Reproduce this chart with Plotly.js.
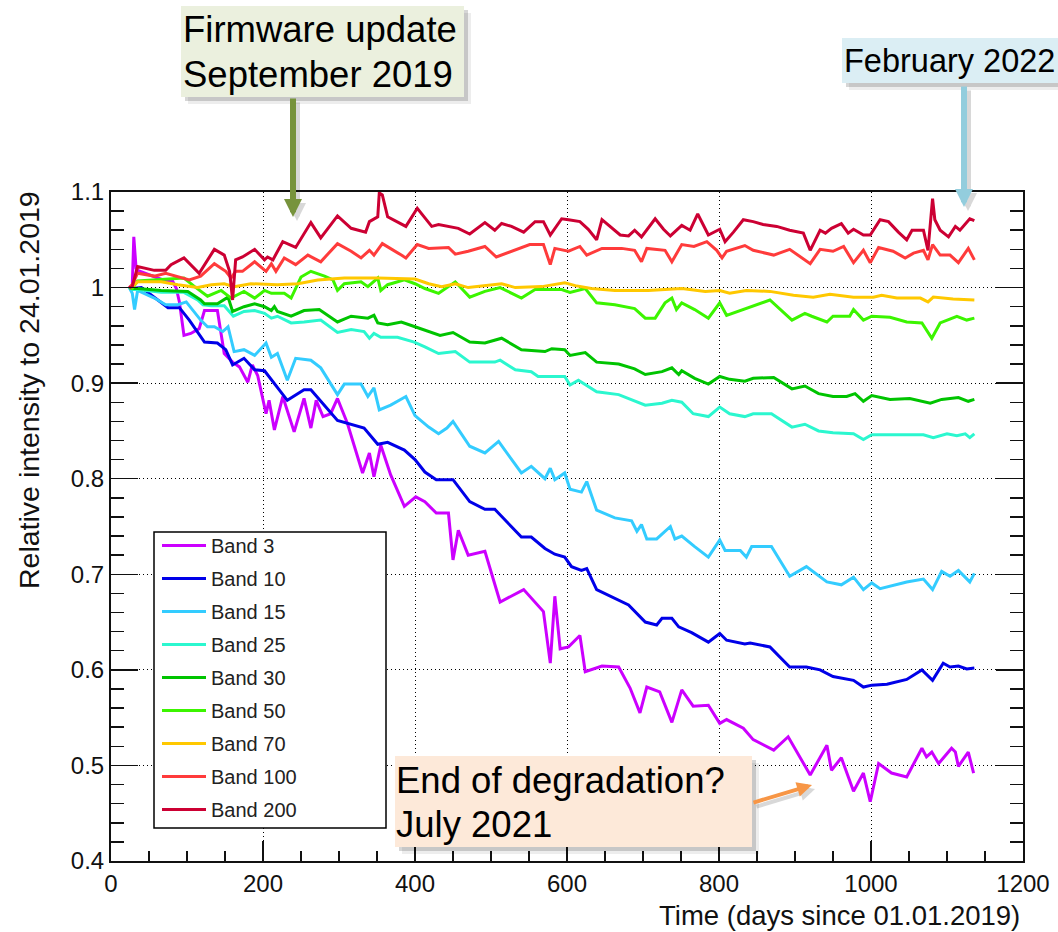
<!DOCTYPE html>
<html>
<head>
<meta charset="utf-8">
<script src="https://cdn.plot.ly/plotly-3.0.1.min.js"></script>
<style>
  html, body { margin: 0; padding: 0; background: #ffffff; }
  #chart { width: 1058px; height: 932px; }
</style>
</head>
<body>
<div id="chart"></div>
<script>
// ---------------- DATA ----------------
const bandNames = ['Band 3', 'Band 10', 'Band 15', 'Band 25', 'Band 30', 'Band 50', 'Band 70', 'Band 100', 'Band 200'];

const band3Days = [24,28,30,33,35,57,72,81,86,90,96,105,116,123,140,149,160,169,180,186,193,204,208,215,226,241,254,263,270,279,289,298,311,331,340,346,355,368,386,401,413,428,444,450,457,470,492,512,543,569,578,584,591,602,617,624,646,668,683,696,705,722,738,751,766,786,801,810,832,845,872,891,920,942,948,961,977,990,999,1010,1027,1047,1067,1073,1080,1089,1106,1111,1115,1128,1135];
const band3Vals = [1.000,1.002,1.053,1.020,1.018,1.011,1.007,1.007,0.999,0.985,0.950,0.952,0.957,0.976,0.976,0.931,0.922,0.917,0.901,0.919,0.908,0.868,0.882,0.851,0.886,0.849,0.884,0.853,0.882,0.865,0.868,0.884,0.858,0.806,0.827,0.802,0.835,0.804,0.771,0.781,0.776,0.764,0.764,0.715,0.746,0.720,0.724,0.671,0.684,0.661,0.607,0.677,0.622,0.624,0.636,0.598,0.604,0.603,0.581,0.555,0.582,0.577,0.545,0.579,0.562,0.563,0.544,0.548,0.539,0.527,0.516,0.530,0.490,0.521,0.495,0.508,0.473,0.492,0.462,0.502,0.492,0.488,0.518,0.509,0.514,0.502,0.518,0.514,0.499,0.514,0.492];

const band10Days = [24,28,40,57,75,90,103,123,140,151,160,175,189,202,232,254,263,298,333,351,364,386,400,413,428,450,472,492,505,540,553,571,584,597,606,619,626,639,663,681,703,718,725,738,747,764,786,801,810,834,841,867,893,915,933,950,977,990,1001,1021,1047,1067,1081,1095,1104,1115,1126,1136];
const band10Vals = [1.000,0.999,1.000,0.990,0.979,0.979,0.966,0.943,0.942,0.935,0.919,0.926,0.914,0.913,0.882,0.893,0.893,0.861,0.853,0.836,0.838,0.830,0.820,0.807,0.799,0.799,0.776,0.768,0.768,0.739,0.739,0.727,0.721,0.718,0.708,0.704,0.706,0.684,0.675,0.668,0.650,0.647,0.654,0.654,0.645,0.639,0.629,0.638,0.631,0.627,0.628,0.624,0.603,0.603,0.600,0.593,0.589,0.582,0.584,0.585,0.590,0.600,0.589,0.607,0.603,0.604,0.601,0.602];

const band15Days = [24,28,31,35,57,72,88,99,118,127,136,147,154,162,175,189,204,211,219,232,243,263,276,298,307,329,338,346,353,368,388,400,418,431,442,450,472,492,510,540,553,571,578,584,597,604,619,626,639,663,685,692,698,705,718,736,742,751,768,786,801,808,828,836,843,869,893,915,942,961,977,990,1001,1012,1047,1069,1081,1093,1104,1115,1130,1136];
const band15Vals = [1.000,0.994,0.977,0.997,0.989,0.982,0.982,0.985,0.966,0.959,0.959,0.954,0.959,0.933,0.935,0.929,0.942,0.927,0.931,0.903,0.926,0.924,0.916,0.888,0.899,0.899,0.886,0.895,0.872,0.877,0.886,0.866,0.854,0.847,0.853,0.860,0.834,0.827,0.839,0.806,0.813,0.800,0.811,0.799,0.806,0.789,0.786,0.797,0.767,0.759,0.756,0.745,0.752,0.737,0.737,0.750,0.737,0.740,0.729,0.718,0.736,0.725,0.725,0.718,0.729,0.729,0.698,0.708,0.692,0.689,0.697,0.684,0.691,0.685,0.692,0.695,0.684,0.703,0.698,0.704,0.692,0.701];

const band25Days = [24,28,35,66,96,114,121,132,149,161,175,189,202,211,219,237,254,276,298,316,333,340,346,355,377,399,413,431,453,472,505,512,532,553,562,597,604,615,639,668,703,725,738,751,766,786,801,814,834,845,869,896,913,931,950,977,990,1001,1069,1082,1100,1113,1124,1130,1136];
const band25Vals = [1.000,0.998,0.998,0.995,0.995,0.987,0.982,0.981,0.981,0.970,0.975,0.976,0.973,0.968,0.970,0.963,0.964,0.966,0.953,0.956,0.954,0.947,0.952,0.948,0.948,0.943,0.938,0.931,0.933,0.922,0.922,0.924,0.914,0.912,0.907,0.907,0.898,0.903,0.891,0.888,0.877,0.879,0.882,0.880,0.868,0.865,0.875,0.868,0.865,0.868,0.868,0.854,0.857,0.850,0.848,0.847,0.841,0.846,0.846,0.843,0.847,0.845,0.847,0.843,0.847];

const band30Days = [24,28,35,66,101,118,123,140,154,160,175,189,202,211,215,219,237,254,274,298,316,338,346,351,364,382,400,418,433,450,472,492,514,540,571,580,597,604,624,639,668,689,703,725,738,747,751,768,786,801,814,834,845,872,896,913,931,950,968,979,990,1001,1025,1051,1078,1093,1115,1128,1136];
const band30Vals = [1.000,0.999,0.999,0.997,0.996,0.987,0.983,0.983,0.990,0.975,0.980,0.983,0.980,0.976,0.980,0.975,0.970,0.976,0.977,0.964,0.970,0.968,0.971,0.963,0.961,0.964,0.959,0.954,0.950,0.953,0.943,0.942,0.947,0.935,0.933,0.936,0.935,0.929,0.932,0.922,0.920,0.915,0.909,0.912,0.916,0.909,0.913,0.905,0.899,0.907,0.904,0.902,0.905,0.906,0.894,0.897,0.889,0.886,0.886,0.889,0.881,0.887,0.883,0.884,0.879,0.883,0.885,0.881,0.883];

const band50Days = [24,28,35,57,96,110,127,145,158,175,189,202,211,228,237,250,263,281,292,298,307,329,338,351,355,364,386,400,413,431,453,472,492,512,540,558,593,604,624,639,663,689,703,716,729,738,744,751,768,786,801,810,834,867,896,913,922,942,950,972,977,990,1001,1025,1047,1067,1080,1091,1113,1126,1136];
const band50Vals = [1.000,0.999,1.007,1.008,1.010,1.001,0.991,0.997,0.989,0.996,0.989,0.997,0.994,0.994,0.989,1.011,1.017,1.012,1.008,0.997,1.004,1.006,1.001,1.010,0.997,1.003,1.008,1.004,0.999,0.994,1.006,0.990,0.996,1.000,0.989,0.998,0.998,0.995,0.999,0.984,0.982,0.978,0.968,0.968,0.984,0.989,0.977,0.984,0.977,0.968,0.984,0.971,0.978,0.987,0.966,0.973,0.970,0.964,0.970,0.970,0.977,0.966,0.970,0.969,0.964,0.963,0.947,0.963,0.970,0.966,0.968];

const band70Days = [24,28,35,66,88,114,132,149,162,184,219,246,272,307,351,386,400,418,435,453,470,514,532,567,597,611,632,663,707,751,782,801,814,836,867,898,924,946,977,1003,1014,1034,1065,1075,1082,1108,1136];
const band70Vals = [1.000,1.001,1.006,1.006,1.003,1.000,1.003,1.004,1.001,1.004,1.003,1.004,1.008,1.010,1.010,1.009,1.009,1.004,1.001,1.004,1.000,1.004,1.000,1.001,1.005,1.002,0.999,0.997,0.997,0.999,0.996,0.997,0.994,0.997,0.996,0.992,0.990,0.993,0.990,0.990,0.992,0.989,0.989,0.985,0.990,0.988,0.987];

const band100Days = [24,28,35,57,72,88,103,118,136,151,158,164,173,189,204,211,217,228,243,259,276,298,316,329,340,346,357,382,388,403,418,444,453,470,492,507,532,551,569,578,584,602,617,626,646,672,689,698,705,729,738,751,767,784,797,804,810,834,845,872,893,907,920,933,950,964,977,990,999,1010,1029,1045,1056,1069,1075,1081,1091,1104,1115,1128,1136];
const band100Vals = [1.000,1.003,1.015,1.012,1.015,1.011,1.008,1.012,1.025,1.017,1.010,1.017,1.017,1.027,1.017,1.025,1.017,1.031,1.024,1.034,1.027,1.046,1.038,1.031,1.039,1.034,1.046,1.034,1.031,1.045,1.041,1.042,1.035,1.038,1.043,1.032,1.039,1.045,1.045,1.024,1.041,1.038,1.043,1.034,1.041,1.041,1.039,1.027,1.041,1.039,1.027,1.045,1.043,1.048,1.039,1.031,1.038,1.044,1.039,1.034,1.040,1.032,1.025,1.040,1.038,1.043,1.026,1.039,1.026,1.042,1.038,1.031,1.036,1.039,1.029,1.045,1.034,1.034,1.026,1.041,1.029];

const band200Days = [24,28,35,57,72,79,96,116,136,149,156,160,164,173,189,202,206,213,226,243,263,276,298,316,335,340,351,353,357,364,388,403,407,422,431,444,457,472,492,505,514,527,543,558,569,578,593,602,617,628,639,646,659,670,681,689,698,716,727,736,751,762,772,786,801,808,819,832,845,858,876,893,911,920,933,940,948,961,970,977,990,999,1012,1023,1036,1047,1054,1069,1075,1079,1081,1084,1091,1102,1111,1117,1130,1136];
const band200Vals = [1.000,1.001,1.022,1.018,1.018,1.024,1.031,1.015,1.040,1.034,1.017,0.987,1.029,1.032,1.040,1.029,1.032,1.029,1.048,1.042,1.068,1.052,1.075,1.062,1.058,1.069,1.074,1.099,1.097,1.074,1.064,1.083,1.079,1.064,1.066,1.064,1.062,1.056,1.068,1.060,1.067,1.064,1.058,1.069,1.069,1.055,1.072,1.071,1.069,1.061,1.050,1.071,1.062,1.055,1.054,1.060,1.053,1.072,1.061,1.054,1.065,1.060,1.077,1.055,1.061,1.048,1.058,1.071,1.069,1.066,1.064,1.060,1.057,1.039,1.060,1.057,1.062,1.067,1.057,1.061,1.055,1.055,1.071,1.069,1.058,1.050,1.060,1.060,1.039,1.081,1.093,1.071,1.060,1.053,1.064,1.060,1.072,1.070];

const xTickValues = [0, 200, 400, 600, 800, 1000, 1200];
const yTickValues = [0.4, 0.5, 0.6, 0.7, 0.8, 0.9, 1.0, 1.1];
const yTickLabels = ['0.4', '0.5', '0.6', '0.7', '0.8', '0.9', '1', '1.1'];

// ---------------- STYLE ----------------
const bandColors = ['#cc00ff', '#0000e8', '#33ccff', '#2bf7cf', '#00c400', '#3cf500', '#ffc800', '#ff3b3b', '#cc0033'];
const FONT = 'Liberation Sans, Arial, Helvetica, sans-serif';

const seriesDays = [band3Days, band10Days, band15Days, band25Days, band30Days, band50Days, band70Days, band100Days, band200Days];
const seriesVals = [band3Vals, band10Vals, band15Vals, band25Vals, band30Vals, band50Vals, band70Vals, band100Vals, band200Vals];

const traces = bandNames.map((name, i) => ({
  type: 'scatter',
  mode: 'lines',
  name: name,
  x: seriesDays[i],
  y: seriesVals[i],
  legendgroup: 'g' + i,
  line: { color: bandColors[i], width: 3 },
  hoverinfo: 'skip'
}));

// geometry of plot area in page pixels
const L = 111, R = 1023, T = 192, B = 861;
const W = 1058, H = 932;
const px = v => (v - L) / (R - L);
const py = v => (B - v) / (B - T);

function box(x0, y0, x1, y1, fill) {
  return [
    { type: 'rect', xref: 'paper', yref: 'paper', x0: px(x0 + 7), x1: px(x1 + 7), y0: py(y1 + 7), y1: py(y0 + 7),
      fillcolor: 'rgba(0,0,0,0.07)', line: { width: 0 }, layer: 'above' },
    { type: 'rect', xref: 'paper', yref: 'paper', x0: px(x0 + 4), x1: px(x1 + 4), y0: py(y1 + 4), y1: py(y0 + 4),
      fillcolor: 'rgba(0,0,0,0.16)', line: { width: 0 }, layer: 'above' },
    { type: 'rect', xref: 'paper', yref: 'paper', x0: px(x0), x1: px(x1), y0: py(y1), y1: py(y0),
      fillcolor: fill, line: { width: 0 }, layer: 'above' }
  ];
}

function label(text, x, yc, size) {
  return { xref: 'paper', yref: 'paper', x: px(x), y: py(yc), xanchor: 'left', yanchor: 'middle',
    text: text, showarrow: false, font: { family: FONT, size: size, color: '#000' } };
}

function arrow(x0, y0, x1, y1, color, w, s) {
  return { xref: 'paper', yref: 'paper', x: px(x1), y: py(y1), ax: x0 - x1, ay: y0 - y1,
    axref: 'pixel', ayref: 'pixel', text: '', showarrow: true, arrowhead: 2, arrowsize: s,
    arrowwidth: w, arrowcolor: color };
}

const shapes = [].concat(
  box(181, 6, 464, 97, '#ebf0de'),
  box(842, 38, 1070, 83, '#dbeef4'),
  box(395, 756, 752, 847, '#fde9d9'),
  [{ type: 'rect', xref: 'paper', yref: 'paper', x0: px(154), x1: px(386), y0: py(828), y1: py(532),
     fillcolor: '#ffffff', line: { color: '#000000', width: 1.5 }, layer: 'above' }]
);

const annotations = [
  label('Firmware update', 181, 30, 36.5),
  label('September 2019', 181, 74, 36.5),
  label('February 2022', 842, 61, 32.5),
  label('End of degradation?', 394, 780, 36.5),
  label('July 2021', 394, 824, 36.5),
  arrow(297, 101, 297, 221, 'rgba(0,0,0,0.15)', 6, 0.6),
  arrow(293, 97, 293, 217, '#77933c', 6, 0.6),
  arrow(968, 89, 968, 211, 'rgba(0,0,0,0.15)', 6, 0.6),
  arrow(964, 85, 964, 207, '#93cddd', 6, 0.6),
  arrow(755, 807, 815, 789, 'rgba(0,0,0,0.15)', 4, 0.75),
  arrow(752, 803, 812, 785, '#f79646', 4, 0.75),
  { xref: 'paper', yref: 'paper', x: px(1022), y: py(915), xanchor: 'right', yanchor: 'middle',
    text: 'Time (days since 01.01.2019)', showarrow: false, font: { family: FONT, size: 27.5, color: '#111' } },
  { xref: 'paper', yref: 'paper', x: px(29), y: py(189), xanchor: 'center', yanchor: 'top', textangle: -90,
    text: 'Relative intensity to 24.01.2019', showarrow: false, font: { family: FONT, size: 28.5, color: '#111' } }
];

const layout = {
  width: W, height: H,
  margin: { l: L, r: W - R, t: T, b: H - B, pad: 0 },
  paper_bgcolor: '#ffffff', plot_bgcolor: '#ffffff',
  showlegend: true,
  legend: {
    x: px(157), y: py(526), xanchor: 'left', yanchor: 'top',
    bgcolor: 'rgba(0,0,0,0)', borderwidth: 0,
    font: { family: FONT, size: 20, color: '#222' },
    tracegroupgap: 4, itemwidth: 44, traceorder: 'grouped'
  },
  xaxis: {
    range: [0, 1200], tickmode: 'array', tickvals: xTickValues, ticktext: xTickValues.map(String),
    ticks: 'inside', ticklen: 20, tickwidth: 1.5, tickcolor: '#111',
    showline: true, linecolor: '#111', linewidth: 2, mirror: true,
    showgrid: true, gridcolor: '#000', gridwidth: 1, griddash: '1px,3px',
    zeroline: false,
    tickfont: { family: FONT, size: 24, color: '#111' },
    minor: { dtick: 50, tick0: 0, ticks: 'inside', ticklen: 10, tickwidth: 1.5, tickcolor: '#111', showgrid: false }
  },
  yaxis: {
    range: [0.4, 1.1], tickmode: 'array', tickvals: yTickValues, ticktext: yTickLabels,
    ticks: 'inside', ticklen: 27, tickwidth: 1.5, tickcolor: '#111',
    showline: true, linecolor: '#111', linewidth: 2, mirror: 'ticks',
    showgrid: true, gridcolor: '#000', gridwidth: 1, griddash: '1px,3px',
    zeroline: false,
    tickfont: { family: FONT, size: 24, color: '#111' },
    minor: { dtick: 0.02, tick0: 0.4, ticks: 'inside', ticklen: 13, tickwidth: 1.5, tickcolor: '#111', showgrid: false }
  },
  shapes: shapes,
  annotations: annotations
};

Plotly.newPlot('chart', traces, layout, { staticPlot: true, displayModeBar: false });
</script>
</body>
</html>
